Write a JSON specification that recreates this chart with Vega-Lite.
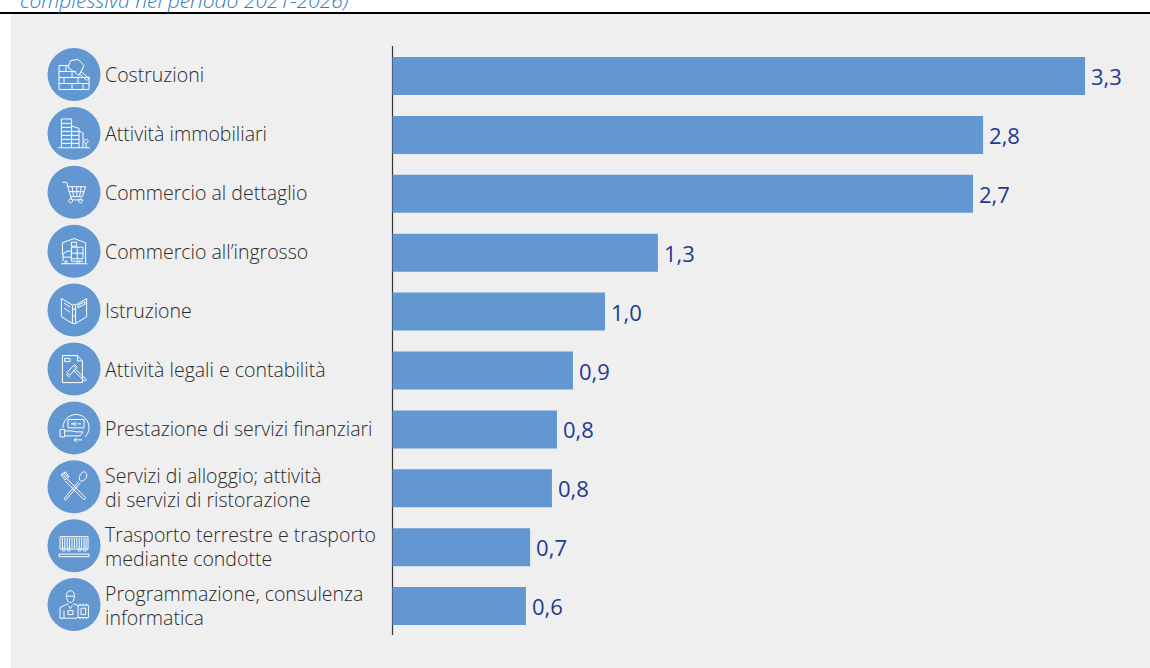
{
"$schema":"https://vega.github.io/schema/vega-lite/v6.json",
"width":1150,"height":668,"padding":0,"autosize":"none","background":"white",
"view":{"stroke":null},
"config":{"font":"Open Sans"},
"datasets":{
"righe":[
{"settore":"Costruzioni","etichetta":"Costruzioni","lunghezza":3.301,"valore":"3,3"},
{"settore":"Attività immobiliari","etichetta":"Attività immobiliari","lunghezza":2.815,"valore":"2,8"},
{"settore":"Commercio al dettaglio","etichetta":"Commercio al dettaglio","lunghezza":2.767,"valore":"2,7"},
{"settore":"Commercio all’ingrosso","etichetta":"Commercio all’ingrosso","lunghezza":1.265,"valore":"1,3"},
{"settore":"Istruzione","etichetta":"Istruzione","lunghezza":1.013,"valore":"1,0"},
{"settore":"Attività legali e contabilità","etichetta":"Attività legali e contabilità","lunghezza":0.86,"valore":"0,9"},
{"settore":"Prestazione di servizi finanziari","etichetta":"Prestazione di servizi finanziari","lunghezza":0.784,"valore":"0,8"},
{"settore":"Servizi di alloggio","etichetta":"Servizi di alloggio; attività\ndi servizi di ristorazione","lunghezza":0.76,"valore":"0,8"},
{"settore":"Trasporto terrestre","etichetta":"Trasporto terrestre e trasporto\nmediante condotte","lunghezza":0.656,"valore":"0,7"},
{"settore":"Programmazione","etichetta":"Programmazione, consulenza\ninformatica","lunghezza":0.636,"valore":"0,6"}
]},
"resolve":{"scale":{"y":"independent"}},
"layer":[
{"data":{"values":[{"a":-1.8184,"b":3.6106,"c":14,"d":668}]},"mark":{"type":"rect","color":"#efefef"},
 "encoding":{"x":{"field":"a","type":"quantitative","axis":null,"scale":{"domain":[-1.8708,3.6106],"range":[0,1150],"nice":false,"zero":false}},"x2":{"field":"b"},
 "y":{"field":"c","type":"quantitative","axis":null,"scale":{"domain":[0,668],"range":[0,668],"nice":false,"zero":false}},"y2":{"field":"d"}}},
{"data":{"values":[{"a":-1.8708,"b":3.6106,"c":13}]},"mark":{"type":"rule","color":"#000000","strokeWidth":2},
 "encoding":{"x":{"field":"a","type":"quantitative"},"x2":{"field":"b"},
 "y":{"field":"c","type":"quantitative","axis":null,"scale":{"domain":[0,668],"range":[0,668],"nice":false,"zero":false}}}},
{"data":{"values":[{"a":0,"c":46,"d":635}]},"mark":{"type":"rule","color":"#333333","strokeWidth":1.2},
 "encoding":{"x":{"field":"a","type":"quantitative"},
 "y":{"field":"c","type":"quantitative","axis":null,"scale":{"domain":[0,668],"range":[0,668],"nice":false,"zero":false}},"y2":{"field":"d"}}},
{"data":{"values":[{"t":"complessiva nel periodo 2021-2026)","a":-1.7755,"c":7.5}]},"mark":{"type":"text","align":"left","baseline":"alphabetic","fontStyle":"italic","fontWeight":300,"fontSize":21,"color":"#2f7ac0"},
 "encoding":{"text":{"field":"t"},"x":{"field":"a","type":"quantitative"},
 "y":{"field":"c","type":"quantitative","axis":null,"scale":{"domain":[0,668],"range":[0,668],"nice":false,"zero":false}}}},
{"data":{"name":"righe"},"mark":{"type":"bar","color":"#6297d1"},
 "encoding":{"x":{"field":"lunghezza","type":"quantitative"},"x2":{"datum":0},
 "y":{"field":"settore","type":"nominal","sort":null,"axis":null,"scale":{"type":"band","range":[0,668],"paddingInner":0.355,"paddingOuter":0.848,"align":0.5706}}}},
{"data":{"name":"righe"},"mark":{"type":"text","align":"left","baseline":"middle","dx":6,"dy":2,"fontSize":22,"color":"#1f3a93"},
 "encoding":{"x":{"field":"lunghezza","type":"quantitative"},"text":{"field":"valore"},
 "y":{"field":"settore","type":"nominal","sort":null,"axis":null,"scale":{"type":"band","range":[0,668],"paddingInner":0.355,"paddingOuter":0.848,"align":0.5706}}}},
{"data":{"name":"righe"},"transform":[{"filter":"indexof(datum.etichetta,'\\n')<0"}],"mark":{"type":"text","align":"left","baseline":"middle","dy":0.5,"fontSize":19.5,"fontWeight":300,"color":"#2b2b2b"},
 "encoding":{"x":{"datum":-1.37},"text":{"field":"etichetta"},
 "y":{"field":"settore","type":"nominal","sort":null,"axis":null,"scale":{"type":"band","domain":["Costruzioni","Attività immobiliari","Commercio al dettaglio","Commercio all’ingrosso","Istruzione","Attività legali e contabilità","Prestazione di servizi finanziari","Servizi di alloggio","Trasporto terrestre","Programmazione"],"range":[0,668],"paddingInner":0.355,"paddingOuter":0.848,"align":0.5706}}}},
{"data":{"name":"righe"},"transform":[{"filter":"indexof(datum.etichetta,'\\n')>=0"}],"mark":{"type":"text","align":"left","baseline":"middle","dy":-11.5,"fontSize":19.5,"fontWeight":300,"lineBreak":"\n","lineHeight":24,"color":"#2b2b2b"},
 "encoding":{"x":{"datum":-1.37},"text":{"field":"etichetta"},
 "y":{"field":"settore","type":"nominal","sort":null,"axis":null,"scale":{"type":"band","domain":["Costruzioni","Attività immobiliari","Commercio al dettaglio","Commercio all’ingrosso","Istruzione","Attività legali e contabilità","Prestazione di servizi finanziari","Servizi di alloggio","Trasporto terrestre","Programmazione"],"range":[0,668],"paddingInner":0.355,"paddingOuter":0.848,"align":0.5706}}}},
{"data":{"name":"righe"},"mark":{"type":"point","shape":"circle","filled":true,"opacity":1,"color":"#6297d1","size":2809},
 "encoding":{"x":{"datum":-1.518},
 "y":{"field":"settore","type":"nominal","sort":null,"axis":null,"bandPosition":0.46,"scale":{"type":"band","range":[0,668],"paddingInner":0.355,"paddingOuter":0.848,"align":0.5706}}}},
{"data":{"name":"righe"},"mark":{"type":"point","filled":false,"opacity":1,"stroke":"#ffffff","strokeWidth":1,"size":1600},
 "encoding":{"x":{"datum":-1.518},
 "y":{"field":"settore","type":"nominal","sort":null,"axis":null,"bandPosition":0.46,"scale":{"type":"band","range":[0,668],"paddingInner":0.355,"paddingOuter":0.848,"align":0.5706}},
 "shape":{"field":"settore","type":"nominal","legend":null,"scale":{"domain":["Costruzioni","Attività immobiliari","Commercio al dettaglio","Commercio all’ingrosso","Istruzione","Attività legali e contabilità","Prestazione di servizi finanziari","Servizi di alloggio","Trasporto terrestre","Programmazione"],
 "range":[
 "M-.75 -.45H-.25M-.75 -.45V.75H.75V.1M-.75 -.15H.1M-.75 .15H.75M-.75 .45H.75M-.4 -.45V-.15M-.1 -.15V.15M-.5 .15V.45M.2 .15V.45M-.1 .45V.75M.45 .45V.75M-.17 -.7L.2 -.75L.5 -.45L.25 .05L-.3 -.35ZM.35 -.15L.75 .2L.65 .3L.25 -.05",
 "M-.63 .72V-.72H-.12V.72M-.12 -.37L.25 -.25V.72M.25 -.12L.45 -.02V.72M-.8 .72H.8M-.63 -.5H-.12M-.63 -.3H-.12M-.63 -.1H-.12M-.63 .1H-.12M-.63 .3H-.12M-.63 .5H-.12M-.12 -.1H.25M-.12 .1H.25M-.12 .3H.25M-.12 .5H.25M.6 .72V.5M.5 .4a.1 .1 0 1 0 .2 0a.1 .1 0 1 0 -.2 0",
 "M-.58 -.5H-.37L-.12 .38H.42M-.33 -.28H.58L.42 .22H-.18M-.1 -.28L-.02 .22M.14 -.28V.22M.36 -.28L.28 .22M-.27 -.03H.5M-.27 .43a.1 .1 0 1 0 .2 0a.1 .1 0 1 0 -.2 0M.23 .43a.1 .1 0 1 0 .2 0a.1 .1 0 1 0 -.2 0",
 "M-.58 .17V-.42L0 -.63L.58 -.42V.63M-.65 .63H.67M-.13 -.45H.13V-.25H-.13ZM-.13 -.2H.45V.38H-.13ZM.16 -.2V.38M-.13 .1H.45M-.55 .5V.15L-.35 0H-.13V.5M-.55 .3H-.13M-.13 .5H.45M-.47 .55a.07 .07 0 1 0 .14 0a.07 .07 0 1 0 -.14 0M.15 .55a.07 .07 0 1 0 .14 0a.07 .07 0 1 0 -.14 0",
 "M-.08 -.25L-.63 -.58V.33L-.08 .67ZM.08 -.25L.63 -.58V.33L.08 .67ZM-.08 -.25Q0 -.35 .08 -.25M-.08 .67H.08M-.08 -.05H.08M-.08 .3H.08M.2 -.25L.55 -.42V-.3L.2 -.12ZM-.5 -.35L-.2 -.15M-.5 -.1L-.2 .1",
 "M-.58 -.67H.17L.42 -.4V.68H-.58ZM.17 -.67V-.4H.42M-.47 -.53H-.2V-.37H-.47ZM-.35 .18L-.02 -.18L.12 -.04L-.22 .32ZM-.05 .06L.55 .62L.62 .53L.03 -.02M-.38 .28L-.22 .42M0 -.25L.18 -.08",
 "M-.55 0A.65 .65 0 1 1 .55 .45M-.3 -.42H.5V0H-.3ZM-.15 -.2H.02M.18 -.2H.35M.1 -.2a.07 .07 0 1 0 -.14 0a.07 .07 0 1 0 .14 0M-.7 .08H-.47V.45H-.7ZM-.47 .15H-.1L.1 .2H.45M-.47 .4H.3L.45 .2M0 .6H.4M0 .6L.12 .5M0 .6L.12 .72",
 "M.48 -.75C.72 -.75 .68 -.35 .4 -.28C.2 -.25 .22 -.65 .48 -.75ZM.22 -.25L-.5 .6L-.42 .67L.32 -.2M-.65 -.6L-.42 -.75L-.25 -.5L-.45 -.35ZM-.35 -.4L.58 .55L.5 .65L-.45 -.3M-.58 -.65L-.4 -.42M-.5 -.7L-.32 -.47",
 "M-.7 -.45H.7V.17H-.7ZM-.58 -.4V.12M-.46 -.4V.12M-.34 -.4V.12M-.22 -.4V.12M-.1 -.4V.12M.02 -.4V.12M.14 -.4V.12M.26 -.4V.12M.38 -.4V.12M.5 -.4V.12M.6 -.4V.12M-.75 .42H.75M-.75 .55H.75M-.75 .42V.55M.75 .42V.55M-.6 .2a.08 .08 0 1 0 .16 0a.08 .08 0 1 0 -.16 0M-.34 .2a.08 .08 0 1 0 .16 0a.08 .08 0 1 0 -.16 0M.2 .2a.08 .08 0 1 0 .16 0a.08 .08 0 1 0 -.16 0M.46 .2a.08 .08 0 1 0 .16 0a.08 .08 0 1 0 -.16 0",
 "M-.38 -.45C-.4 -.75 .02 -.8 .02 -.45C.02 -.2 -.1 -.1 -.18 -.1C-.28 -.1 -.38 -.2 -.38 -.45ZM-.38 -.42H.02M-.28 .05L-.18 .2L-.08 .05M-.3 -.05L-.7 .15V.68H.18M-.05 -.05L.2 .05M-.5 .3V.68M-.3 .3H-.05V.5H-.3ZM.2 .03H.72V.65H.2ZM.35 .18H.58V.5H.35ZM.3 -.05V.03M.46 -.05V.03M.62 -.05V.03M.3 .65V.73M.46 .65V.73M.62 .65V.73"
 ]}}}}
]}
